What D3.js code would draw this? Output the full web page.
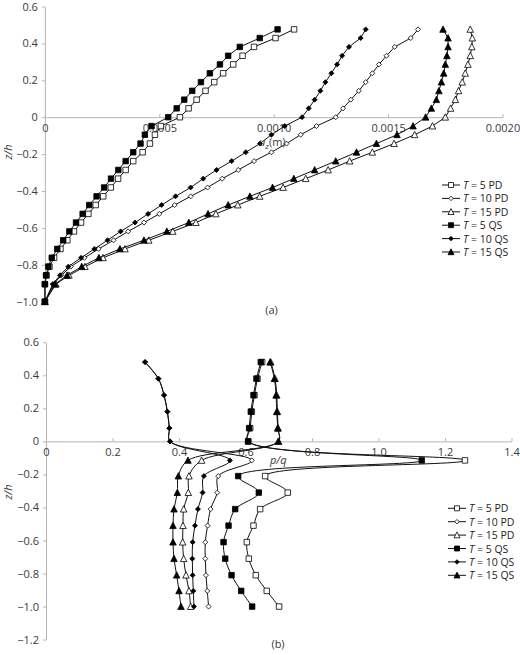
<!DOCTYPE html>
<html>
<head>
<meta charset="utf-8">
<script src="https://cdn.jsdelivr.net/npm/d3@7"></script>
<style>
body { margin: 0; background: #fff; }
text { font-family: "Open Sans", "Noto Sans", sans-serif; }
</style>
</head>
<body>
<svg id="chart" width="520" height="655"></svg>
<script>
// ---- panel (a): u_z (x 1e-4 m) against z/h ----
var zA = [-1.0, -0.905, -0.857, -0.810, -0.762, -0.714, -0.667, -0.619, -0.571, -0.524,
  -0.476, -0.429, -0.381, -0.333, -0.286, -0.238, -0.190, -0.143, -0.095, -0.048,
  0, 0.048, 0.095, 0.143, 0.190, 0.238, 0.286, 0.333, 0.381, 0.429, 0.476];

var uz5PD = [0, 0, 0.07, 0.20, 0.40, 0.68, 0.98, 1.27, 1.58, 1.90, 2.22, 2.55, 2.88, 3.20, 3.53, 3.86,
  4.27, 4.59, 4.81, 5.07, 5.90, 6.28, 6.63, 7.02, 7.40, 7.79, 8.23, 8.64, 9.14, 10.08, 10.89];
var uz10PD = [0, 0.38, 0.72, 1.13, 1.73, 2.35, 3.00, 3.64, 4.33, 5.00, 5.67, 6.37, 7.11, 7.75, 8.45, 9.14,
  9.90, 10.56, 11.18, 11.87, 12.71, 13.03, 13.37, 13.72, 14.02, 14.31, 14.60, 14.93, 15.29, 15.99, 16.31];
var uz15PD = [0, 0.48, 1.05, 1.75, 2.54, 3.50, 4.54, 5.59, 6.60, 7.47, 8.43, 9.39, 10.41, 11.40, 12.38, 13.32,
  14.31, 15.26, 16.16, 16.94, 17.50, 17.73, 17.94, 18.08, 18.24, 18.37, 18.49, 18.59, 18.66, 18.68, 18.59];
var uz5QS = [0, 0, 0.05, 0.15, 0.30, 0.54, 0.80, 1.07, 1.36, 1.65, 1.94, 2.26, 2.59, 2.89, 3.21, 3.53,
  3.86, 4.18, 4.37, 4.66, 5.39, 5.76, 6.09, 6.44, 6.82, 7.21, 7.65, 8.01, 8.52, 9.39, 10.17];
var uz10QS = [0, 0.34, 0.66, 1.02, 1.58, 2.16, 2.74, 3.31, 3.94, 4.51, 5.10, 5.71, 6.37, 6.92, 7.50, 8.16,
  8.78, 9.40, 9.90, 10.48, 11.24, 11.53, 11.79, 12.04, 12.26, 12.52, 12.77, 12.99, 13.29, 13.80, 14.02];
var uz15QS = [0, 0.44, 0.97, 1.61, 2.36, 3.28, 4.33, 5.33, 6.29, 7.13, 8.01, 8.96, 9.95, 10.88, 11.79, 12.71,
  13.62, 14.49, 15.39, 16.09, 16.64, 16.89, 17.11, 17.22, 17.33, 17.43, 17.50, 17.57, 17.62, 17.62, 17.40];

var xTicksA = [0, 5, 10, 15, 20];   // x 1e-4 m
var yTicksA = [0.6, 0.4, 0.2, 0, -0.2, -0.4, -0.6, -0.8, -1.0];

// ---- panel (b): p/q against z/h ----
var zB = [-1.0, -0.905, -0.81, -0.71, -0.61, -0.51, -0.41, -0.31, -0.21, -0.115, 0, 0.08, 0.18, 0.28, 0.38, 0.48];

var pq5PD = [0.701, 0.664, 0.631, 0.610, 0.604, 0.624, 0.644, 0.727, 0.659, 1.26, 0.608, 0.614, 0.619, 0.627, 0.636, 0.650];
var pq10PD = [0.489, 0.485, 0.481, 0.479, 0.479, 0.486, 0.495, 0.515, 0.518, 0.619, 0.373, 0.371, 0.365, 0.355, 0.338, 0.298];
var pq15PD = [0.435, 0.430, 0.421, 0.414, 0.411, 0.412, 0.414, 0.428, 0.430, 0.468, 0.699, 0.698, 0.696, 0.694, 0.689, 0.676];
var pq5QS = [0.620, 0.587, 0.558, 0.539, 0.534, 0.549, 0.569, 0.640, 0.578, 1.13, 0.608, 0.611, 0.616, 0.624, 0.633, 0.646];
var pq10QS = [0.445, 0.443, 0.441, 0.440, 0.441, 0.448, 0.457, 0.471, 0.475, 0.553, 0.373, 0.371, 0.365, 0.355, 0.338, 0.298];
var pq15QS = [0.406, 0.400, 0.393, 0.385, 0.382, 0.382, 0.385, 0.395, 0.398, 0.427, 0.699, 0.697, 0.694, 0.692, 0.687, 0.674];

var xTicksB = [0, 0.2, 0.4, 0.6, 0.8, 1.0, 1.2, 1.4];
var yTicksB = [0.6, 0.4, 0.2, 0, -0.2, -0.4, -0.6, -0.8, -1.0, -1.2];

var legendNames = ["5 PD", "10 PD", "15 PD", "5 QS", "10 QS", "15 QS"];
var shapes = ["square", "diamond", "triangle", "square", "diamond", "triangle"];
var filled = [false, false, false, true, true, true];

var svg = d3.select("#chart");
var axisColor = "#b4b4b4";
var textColor = "#3a3a3a";

function symbolPath(shape, s) {
  if (shape === "square") return d3.symbol(d3.symbolSquare, s * s)();
  if (shape === "diamond") return "M0," + (-s / 2) + "L" + (s / 2) + ",0L0," + (s / 2) + "L" + (-s / 2) + ",0Z";
  var h = s * 0.9;
  return "M0," + (-h / 2 - 0.5) + "L" + (s / 2) + "," + (h / 2) + "L" + (-s / 2) + "," + (h / 2) + "Z";
}
var sizes = { square: 5.5, diamond: 5, triangle: 6.5 };

function drawPanel(opt) {
  var g = svg.append("g");
  var x = d3.scaleLinear().domain(opt.xDomain).range(opt.xRange);
  var y = d3.scaleLinear().domain(opt.yDomain).range(opt.yRange);

  // y axis
  var ya = g.append("g")
    .attr("transform", "translate(" + x(0) + ",0)")
    .call(d3.axisLeft(y).tickValues(opt.yTicks).tickSizeInner(3).tickSizeOuter(0).tickPadding(4)
      .tickFormat(function (d) { return d === 0 ? "0" : d3.format(".1f")(d); }));
  // x axis at z/h = 0, ticks pointing up
  var xa = g.append("g")
    .attr("transform", "translate(0," + y(0) + ")")
    .call(d3.axisBottom(x).tickValues(opt.xTicks).tickSizeInner(-3).tickSizeOuter(0).tickPadding(7)
      .tickFormat(opt.xFormat));
  [ya, xa].forEach(function (a) {
    a.select(".domain").attr("stroke", axisColor);
    a.selectAll(".tick line").attr("stroke", axisColor);
    a.selectAll(".tick text").attr("fill", textColor).style("font-size", "11px")
      .style("font-family", '"Open Sans", "Noto Sans", sans-serif');
  });

  var line = d3.line()
    .x(function (d) { return x(d[0]); })
    .y(function (d) { return y(d[1]); })
    .curve(opt.curve);

  opt.series.forEach(function (vals, i) {
    var pts = vals.map(function (v, j) { return [v, opt.z[j]]; });
    g.append("path").datum(pts)
      .attr("d", line)
      .attr("fill", "none")
      .attr("stroke", "#111")
      .attr("stroke-width", 1);
    g.selectAll(null).data(pts).enter().append("path")
      .attr("d", symbolPath(shapes[i], sizes[shapes[i]]))
      .attr("transform", function (d) { return "translate(" + x(d[0]) + "," + y(d[1]) + ")"; })
      .attr("fill", filled[i] ? "#000" : "#fff")
      .attr("stroke", "#000")
      .attr("stroke-width", 0.8);
  });

  // axis titles
  g.append("text")
    .attr("transform", "translate(" + opt.yLabel[0] + "," + opt.yLabel[1] + ") rotate(-90)")
    .attr("text-anchor", "middle")
    .attr("fill", textColor)
    .style("font-size", "11px")
    .style("font-style", "italic")
    .text("z/h");
  opt.xTitle(g.append("text")
    .attr("x", opt.xLabel[0]).attr("y", opt.xLabel[1])
    .attr("fill", textColor)
    .style("font-size", "11px"));

  // legend
  legendNames.forEach(function (name, i) {
    var ly = opt.legend[1] + i * 13.4;
    var lx = opt.legend[0];
    g.append("line")
      .attr("x1", lx).attr("x2", lx + 18).attr("y1", ly).attr("y2", ly)
      .attr("stroke", "#111").attr("stroke-width", 1);
    g.append("path")
      .attr("d", symbolPath(shapes[i], sizes[shapes[i]] - 0.5))
      .attr("transform", "translate(" + (lx + 9) + "," + ly + ")")
      .attr("fill", filled[i] ? "#000" : "#fff")
      .attr("stroke", "#000").attr("stroke-width", 0.8);
    var t = g.append("text")
      .attr("x", lx + 21).attr("y", ly + 4)
      .attr("fill", "#222")
      .style("font-size", "10.5px");
    t.append("tspan").style("font-style", "italic").text("T");
    t.append("tspan").text(" = " + name);
  });

  g.append("text")
    .attr("x", opt.caption[0]).attr("y", opt.caption[1])
    .attr("text-anchor", "middle")
    .attr("fill", textColor)
    .style("font-size", "11px")
    .text(opt.captionText);
}

drawPanel({
  xDomain: [0, 20], xRange: [44.9, 502.5],
  yDomain: [-1, 0.6], yRange: [301.7, 6.5],
  xTicks: xTicksA, yTicks: yTicksA,
  xFormat: function (d) { return d === 0 ? "0" : (d * 1e-4).toFixed(4); },
  z: zA,
  series: [uz5PD, uz10PD, uz15PD, uz5QS, uz10QS, uz15QS],
  curve: d3.curveLinear,
  yLabel: [12, 152],
  xLabel: [259, 146],
  xTitle: function (t) {
    t.append("tspan").style("font-style", "italic").text("u");
    t.append("tspan").style("font-style", "italic").style("font-size", "8px").attr("dy", 3).text("z");
    t.append("tspan").attr("dy", -3).text("(m)");
  },
  legend: [442, 185],
  caption: [271.5, 314], captionText: "(a)"
});

drawPanel({
  xDomain: [0, 1.4], xRange: [46, 511.5],
  yDomain: [-1.2, 0.6], yRange: [639.6, 342.3],
  xTicks: xTicksB, yTicks: yTicksB,
  xFormat: function (d) { return d === 0 ? "0" : d3.format(".1f")(d); },
  z: zB,
  series: [pq5PD, pq10PD, pq15PD, pq5QS, pq10QS, pq15QS],
  curve: d3.curveCatmullRom.alpha(0.5),
  yLabel: [12, 492],
  xLabel: [270, 464],
  xTitle: function (t) { t.style("font-style", "italic").text("p/q"); },
  legend: [448, 508.3],
  caption: [278, 648], captionText: "(b)"
});
</script>
</body>
</html>
